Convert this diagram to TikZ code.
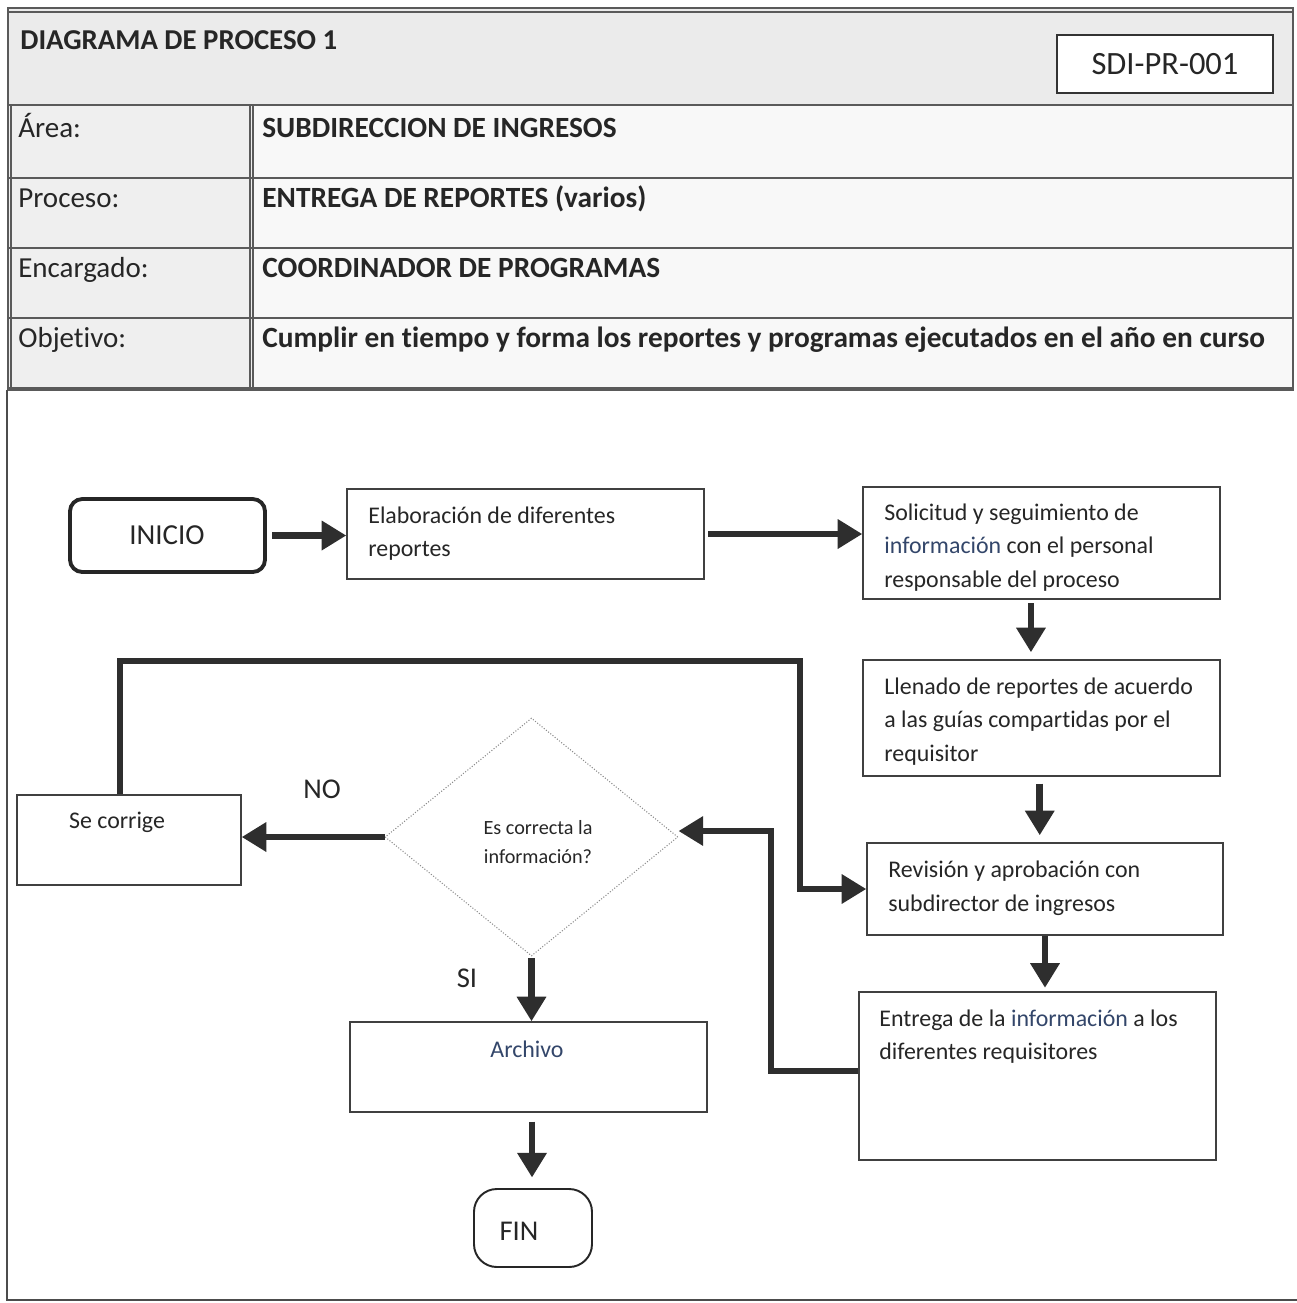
\documentclass[tikz,border=0pt]{standalone}
\usepackage{fontspec}
\setmainfont{Carlito}[Ligatures=NoCommon]
\usetikzlibrary{arrows.meta,shapes.geometric,fit}

\definecolor{ink}{HTML}{262626}
\definecolor{arrowgray}{HTML}{2E2E2E}
\definecolor{rulegray}{HTML}{5A5A5A}
\definecolor{headfill}{HTML}{EBEBEB}
\definecolor{leftfill}{HTML}{EFEFEF}
\definecolor{rightfill}{HTML}{F8F8F8}
\definecolor{bluish}{HTML}{33466A}

% several left-aligned lines whose baseline is that of the first line
\newcommand\txtlines[1]{\begin{tabular}[t]{@{}l@{}}#1\end{tabular}}
\newcommand\ctrlines[1]{\begin{tabular}[t]{@{}c@{}}#1\end{tabular}}

\begin{document}
\begin{tikzpicture}[x=0.02cm,y=-0.02cm,
  hdrrule/.style={draw=rulegray,line width=0.9pt},
  hdrtitle/.style={inner sep=0pt,text=ink,font=\fontsize{16.4}{20}\selectfont\bfseries},
  rowlab/.style={inner sep=0pt,anchor=base west,text=ink,font=\fontsize{16.5}{20}\selectfont},
  rowval/.style={inner sep=0pt,anchor=base west,text=ink,font=\fontsize{16.7}{20}\selectfont\bfseries},
  box/.style={draw=black!75,line width=0.8pt,fill=white,inner sep=0pt},
  flowtxt/.style={inner sep=0pt,anchor=base west,text=ink,font=\fontsize{13.6}{19.3}\selectfont},
  bigtxt/.style={inner sep=0pt,text=ink,font=\fontsize{16.3}{20}\selectfont},
  arr/.style={draw=arrowgray,line width=3.8pt,line join=miter,
              -{Triangle[length=14pt,width=16pt]}},
  looparr/.style={draw=arrowgray,line width=3.4pt,line join=miter,
              -{Triangle[length=14pt,width=16pt]}}
]
\useasboundingbox (0,0) rectangle (1297,1303);

% ---------- header table ----------
\fill[headfill] (8,8) rectangle (1293,105);
\fill[leftfill] (8,105) rectangle (253,390);
\fill[rightfill] (253,105) rectangle (1293,388);
\draw[hdrrule] (8,8) rectangle (1293,390);
\draw[hdrrule,line width=0.6pt] (8,12) -- (1293,12);
\draw[hdrrule,line width=0.6pt] (11,105) -- (11,390);
\foreach \yy in {105,178,248,318,388} \draw[hdrrule] (8,\yy) -- (1293,\yy);
\draw[hdrrule] (253,105) -- (253,390);
\draw[hdrrule,line width=0.6pt] (250,105) -- (250,390);

\node[hdrtitle,anchor=base west] (title) at (20,49) {DIAGRAMA DE PROCESO 1};
\node[draw=black!80,line width=1.1pt,fill=white,inner sep=0pt,
      minimum width=4.32cm,minimum height=1.16cm,
      font=\fontsize{18.5}{22}\selectfont,text=ink] (code) at (1165,64) {SDI-PR-001};

\node[rowlab] (lab1) at (18,137) {Área:};
\node[rowlab] (lab2) at (18,207) {Proceso:};
\node[rowlab] (lab3) at (18,277) {Encargado:};
\node[rowlab] (lab4) at (18,347) {Objetivo:};
\node[rowval] (val1) at (262,137) {SUBDIRECCION DE INGRESOS};
\node[rowval] (val2) at (262,207) {ENTREGA DE REPORTES (varios)};
\node[rowval] (val3) at (262,277) {COORDINADOR DE PROGRAMAS};
\node[rowval] (val4) at (262,347) {Cumplir en tiempo y forma los reportes y programas ejecutados en el año en curso};

% ---------- frame of the flow area ----------
\draw[draw=black!70,line width=0.7pt] (7,390) -- (7,1300) -- (1297,1300);

% ---------- flow nodes ----------
\node[box,draw=black!85,line width=2.2pt,rounded corners=7pt,
      fit={(70,499) (265,572)}] (start) {};
\node[bigtxt,font=\fontsize{16.5}{20}\selectfont] (startt) at (167,535) {INICIO};

\node[box,fit={(347,489) (704,579)}] (elab) {};
\node[flowtxt] (elabt) at (368,523) {\txtlines{Elaboración de diferentes\\reportes}};

\node[box,fit={(863,487) (1220,599)}] (sol) {};
\node[flowtxt] (solt) at (884,520)
  {\txtlines{Solicitud y seguimiento de\\\textcolor{bluish}{información} con el personal\\responsable del proceso}};

\node[box,fit={(863,660) (1220,776)}] (llen) {};
\node[flowtxt] (llent) at (884,694)
  {\txtlines{Llenado de reportes de acuerdo\\a las guías compartidas por el\\requisitor}};

\node[box,fit={(867,843) (1223,935)}] (rev) {};
\node[flowtxt,font=\fontsize{13.6}{19.8}\selectfont] (revt) at (888,877)
  {\txtlines{Revisión y aprobación con\\subdirector de ingresos}};

\node[box,fit={(859,992) (1216,1160)}] (ent) {};
\node[flowtxt] (entt) at (879,1026)
  {\txtlines{Entrega de la \textcolor{bluish}{información} a los\\diferentes requisitores}};

\node[diamond,draw=black!45,densely dotted,line width=0.6pt,inner sep=0pt,
      minimum width=5.86cm,minimum height=4.76cm] (dec) at (531.5,837) {};
\node[inner sep=0pt,anchor=base,text=ink,font=\fontsize{11.5}{17}\selectfont]
  (dect) at (538,834) {\ctrlines{Es correcta la\\información?}};

\node[box,fit={(17,795) (241,885)}] (corr) {};
\node[flowtxt,anchor=base] (corrt) at (117,828) {Se corrige};

\node[box,fit={(350,1022) (707,1112)}] (arch) {};
\node[flowtxt,anchor=base,text=bluish] (archt) at (527,1057) {Archivo};

\node[box,draw=black!85,line width=1.1pt,rounded corners=13pt,
      fit={(474,1189) (592,1267)}] (fin) {};
\node[bigtxt] (fint) at (519,1231) {FIN};

\node[bigtxt] (nolab) at (322,789) {NO};
\node[bigtxt] (silab) at (467,978) {SI};

% ---------- connectors ----------
\draw[arr,shorten <=3pt] (start.east) -- (start.east -| elab.west);
\draw[arr,shorten <=2pt] (elab.east) -- (elab.east -| sol.west);
\draw[arr,shorten <=2pt,shorten >=4pt] ([xshift=-6pt]sol.south) -- ([xshift=-6pt]sol.south |- llen.north);
\draw[arr,shorten <=4pt,shorten >=4pt] ([xshift=-1pt]llen.south) -- ([xshift=-1pt]llen.south |- rev.north);
\draw[arr,shorten >=2pt] (rev.south) -- (rev.south |- ent.north);
\draw[looparr] ([yshift=3pt]ent.west) -| (771,831) -- (771,831 -| dec.east);
\draw[arr] (dec.west) -- (dec.west -| corr.east);
\draw[looparr] ([xshift=-5pt]corr.north) |- (800,661) |- (rev.west);
\draw[arr,shorten <=1pt] (dec.south) -- (dec.south |- arch.north);
\draw[arr,shorten <=5pt,shorten >=6pt] ([xshift=2pt]arch.south) -- ([xshift=2pt]arch.south |- fin.north);

\end{tikzpicture}
\end{document}
